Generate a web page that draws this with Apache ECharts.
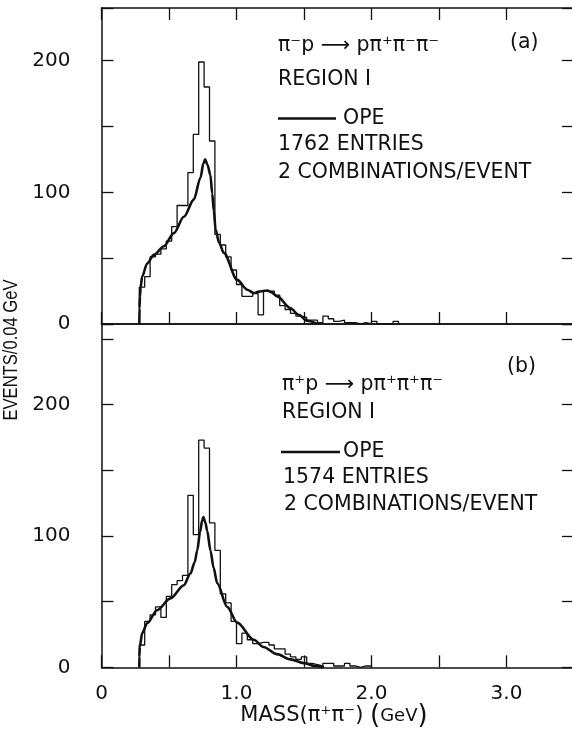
<!DOCTYPE html>
<html>
<head>
<meta charset="utf-8">
<script src="https://cdn.jsdelivr.net/npm/echarts@6/dist/echarts.min.js"></script>
<style>
  html, body { margin: 0; padding: 0; background: #ffffff; }
  #chart { width: 572px; height: 738px; }
</style>
</head>
<body>
<div id="chart"></div>
<script>
// Histogram bins: 0.04 GeV wide, starting at the two-pion threshold
const binStart = 0.28;
const binWidth = 0.04;

// (a) pi- p -> p pi+ pi- pi-, events per bin
const histA = [28, 36, 51, 53, 57, 63, 74, 90, 90, 115,
               144, 199, 180, 139, 68, 60, 51, 41, 30, 21,
               21, 23, 7, 25, 25, 22, 14, 11, 8, 6,
               5, 3, 3, 1, 6, 4, 2, 3, 1, 1,
               0, 1, 0, 2, 0, 0, 0, 2];

// (b) pi+ p -> p pi+ pi+ pi-, events per bin
const histB = [17, 35, 40, 46, 38, 54, 63, 66, 70, 131,
               101, 173, 167, 110, 89, 56, 49, 35, 18, 26,
               21, 18, 19, 19, 17, 14, 14, 10, 8, 6,
               8, 3, 2, 1, 3, 3, 1, 1, 3, 1,
               0, 1, 1];

// OPE model curves: [mass GeV, events]
const opeA = [[0.280, 0], [0.2815, 12], [0.285, 21], [0.290, 28], [0.301, 36], [0.338, 46],
              [0.388, 52.5], [0.462, 59], [0.536, 69], [0.610, 81.5], [0.684, 94.5],
              [0.733, 111], [0.755, 122], [0.768, 125], [0.785, 121], [0.807, 113],
              [0.820, 99], [0.832, 86], [0.845, 72], [0.870, 62], [0.906, 54],
              [1.005, 33.5], [1.080, 26], [1.128, 23.5], [1.165, 24.6], [1.227, 25.4],
              [1.260, 24], [1.301, 21], [1.400, 12], [1.460, 7], [1.524, 2.5], [1.600, 0]];

const opeB = [[0.280, 0], [0.2805, 8], [0.284, 15.7], [0.301, 26], [0.338, 33.5],
              [0.412, 43.5], [0.511, 52.5], [0.610, 62.5], [0.659, 71.5], [0.690, 80],
              [0.709, 89], [0.730, 103], [0.746, 112], [0.755, 114.5], [0.770, 110],
              [0.783, 104], [0.807, 89], [0.830, 76], [0.857, 64], [0.931, 46],
              [1.005, 34], [1.128, 21], [1.200, 15.5], [1.300, 10], [1.400, 6],
              [1.499, 3.2], [1.580, 1], [1.647, 0]];

// Axis tick labels
const xTickValues = [0, 1, 2, 3];
const xTickLabels = ['0', '1.0', '2.0', '3.0'];
const yTickValues = [0, 100, 200];
const yTickLabels = ['0', '100', '200'];

const INK = '#111111';
const FONT = 'DejaVu Sans';
const TEXT_SIZE = 20.5;

function stepData(vals) {
  const pts = [[binStart, 0]];
  vals.forEach((v, i) => pts.push([+(binStart + i * binWidth).toFixed(2), v]));
  const end = +(binStart + vals.length * binWidth).toFixed(2);
  pts.push([end, vals[vals.length - 1]]);
  pts.push([end, 0]);
  return pts;
}

function labelFrom(values, labels) {
  return function (v) {
    for (let i = 0; i < values.length; i++) {
      if (Math.abs(v - values[i]) < 1e-6) return labels[i];
    }
    return '';
  };
}

const tickStyle = { show: true, inside: true, length: 12, lineStyle: { color: INK, width: 1.3 } };
const lineStyleAxis = { show: true, onZero: false, lineStyle: { color: INK, width: 1.5 } };

function xAxisCfg(gridIndex, position, opts) {
  return Object.assign({
    type: 'value', gridIndex, position, min: 0, max: 3.5, interval: 0.5,
    axisLine: lineStyleAxis, axisTick: tickStyle, axisLabel: { show: false },
    splitLine: { show: false }
  }, opts || {});
}

function yAxisCfg(gridIndex, position, max, opts) {
  return Object.assign({
    type: 'value', gridIndex, position, min: 0, max, interval: 50,
    axisLine: lineStyleAxis, axisTick: tickStyle, axisLabel: { show: false },
    splitLine: { show: false }
  }, opts || {});
}

const xLabelCfg = {
  show: true, margin: 16, color: INK, fontFamily: FONT, fontSize: 20,
  showMinLabel: true, showMaxLabel: true, hideOverlap: false,
  formatter: labelFrom(xTickValues, xTickLabels)
};
const yLabelCfg = {
  show: true, margin: 31, color: INK, fontFamily: FONT, fontSize: 20,
  showMinLabel: true, showMaxLabel: true, hideOverlap: false,
  formatter: labelFrom(yTickValues, yTickLabels)
};

function txt(x, y, text, extra) {
  return {
    type: 'text', x, y, z: 50,
    style: Object.assign({
      text, fill: INK, font: TEXT_SIZE + 'px "' + FONT + '"',
      verticalAlign: 'middle', align: 'left'
    }, extra || {})
  };
}

function legendLine(x1, x2, y) {
  return {
    type: 'line', z: 50,
    shape: { x1, y1: y, x2, y2: y },
    style: { stroke: INK, lineWidth: 2.6 }
  };
}

const chart = echarts.init(document.getElementById('chart'), null, { renderer: 'canvas' });

chart.setOption({
  animation: false,
  backgroundColor: '#ffffff',
  grid: [
    { left: 101.5, top: 8, width: 472.5, height: 316, containLabel: false, outerBoundsMode: 'none' },
    { left: 101.5, top: 324, width: 472.5, height: 343.3, containLabel: false, outerBoundsMode: 'none' }
  ],
  xAxis: [
    xAxisCfg(0, 'bottom'),
    xAxisCfg(0, 'top'),
    xAxisCfg(1, 'bottom', { axisLabel: xLabelCfg }),
    xAxisCfg(1, 'top', { axisTick: { show: false } })
  ],
  yAxis: [
    yAxisCfg(0, 'left', 240, { axisLabel: yLabelCfg }),
    yAxisCfg(0, 'right', 240),
    yAxisCfg(1, 'left', 261.5, { axisLabel: yLabelCfg }),
    yAxisCfg(1, 'right', 261.5)
  ],
  series: [
    {
      name: 'data (a)', type: 'line', xAxisIndex: 0, yAxisIndex: 0,
      data: stepData(histA), step: 'end', symbol: 'none', z: 3,
      lineStyle: { color: INK, width: 1.3 }
    },
    {
      name: 'OPE', type: 'line', xAxisIndex: 0, yAxisIndex: 0,
      data: opeA, smooth: 0.3, smoothMonotone: 'x', symbol: 'none', z: 4,
      lineStyle: { color: INK, width: 2.6 }
    },
    {
      name: 'data (b)', type: 'line', xAxisIndex: 2, yAxisIndex: 2,
      data: stepData(histB), step: 'end', symbol: 'none', z: 3,
      lineStyle: { color: INK, width: 1.3 }
    },
    {
      name: 'OPE', type: 'line', xAxisIndex: 2, yAxisIndex: 2,
      data: opeB, smooth: 0.3, smoothMonotone: 'x', symbol: 'none', z: 4,
      lineStyle: { color: INK, width: 2.6 }
    }
  ],
  graphic: [
    // panel (a) annotations
    txt(278, 46, 'π⁻p ⟶ pπ⁺π⁻π⁻'),
    txt(510, 43, '(a)'),
    txt(278, 80, 'REGION I'),
    legendLine(278, 336, 118.5),
    txt(343, 118.5, 'OPE'),
    txt(278, 145, '1762 ENTRIES'),
    txt(278, 173, '2 COMBINATIONS/EVENT'),
    // panel (b) annotations
    txt(507, 367, '(b)'),
    txt(282, 384.5, 'π⁺p ⟶ pπ⁺π⁺π⁻'),
    txt(282, 412.5, 'REGION I'),
    legendLine(281, 340, 452),
    txt(343, 452, 'OPE'),
    txt(283, 478, '1574 ENTRIES'),
    txt(284, 505, '2 COMBINATIONS/EVENT'),
    // axis titles
    {
      type: 'text', x: 11, y: 350, rotation: Math.PI / 2, scaleX: 0.83, z: 50,
      style: {
        text: 'EVENTS/0.04 GeV', fill: INK, font: '20px "Liberation Sans"',
        align: 'center', verticalAlign: 'middle'
      }
    },
    {
      type: 'text', x: 334, y: 716, z: 50,
      style: {
        text: 'MASS(π⁺π⁻) {p|(}{s|GeV}{p|)}', fill: INK, font: '21px "' + FONT + '"',
        align: 'center', verticalAlign: 'middle',
        rich: {
          p: { fontSize: 26, fontFamily: FONT, fill: INK },
          s: { fontSize: 18, fontFamily: FONT, fill: INK }
        }
      }
    }
  ]
});
</script>
</body>
</html>
